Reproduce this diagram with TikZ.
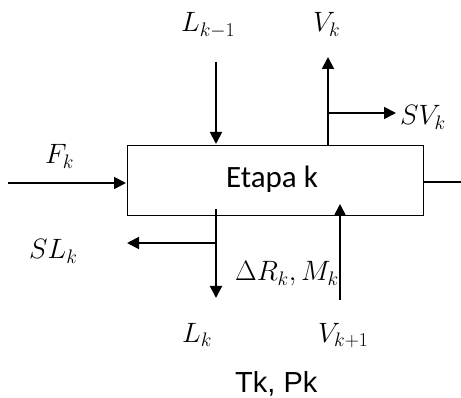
\RequirePackage{fix-cm}
\documentclass[tikz,border=0pt]{standalone}
\usepackage{fontspec}
\setmainfont{Carlito}
\newfontfamily\arialf{Liberation Sans}
\usetikzlibrary{arrows.meta}
\begin{document}
\begin{tikzpicture}[x=1pt,y=-1pt,
  flow/.style={line width=1.8pt,-{Triangle[length=12pt,width=12pt]}},
  plain/.style={line width=1.8pt},
  lbl/.style={inner sep=0pt,anchor=base west,font=\fontsize{28}{30}\selectfont},
  stage/.style={draw,line width=1.8pt,minimum width=296pt,minimum height=70pt,inner sep=0pt}]
\useasboundingbox (0,0) rectangle (461,398);
\node[stage] (box) at (275.5,180.5) {};
\node[inner sep=0pt,anchor=base,font=\fontsize{31}{33}\selectfont] (et) at (272,188) {Etapa k};
% labels
\node[lbl] (lkm1) at (181,32) {$L_{k-1}$};
\node[lbl] (vk) at (313,32) {$V_k$};
\node[lbl] (svk) at (400,125) {$SV_k$};
\node[lbl] (fk) at (45,164) {$F_k$};
\node[lbl] (slk) at (29,259) {$SL_k$};
\node[lbl] (drk) at (235,281) {$\Delta R_k, M_k$};
\node[lbl] (lk) at (182,342) {$L_k$};
\node[lbl] (vkp1) at (318,342) {$V_{k+1}$};
\node[lbl,font=\arialf\fontsize{29}{31}\selectfont] (tp) at (235,392) {Tk, Pk};
% connector points
\coordinate (a1) at (216,62);
\coordinate (a2) at (216,144);
\coordinate (v1) at (328,145);
\coordinate (v2) at (328,57);
\coordinate (sv1) at (328,113);
\coordinate (sv2) at (396,113);
\coordinate (f1) at (8,183);
\coordinate (f2) at (126,183);
\coordinate (r1) at (424,182);
\coordinate (r2) at (461,182);
\coordinate (l1) at (216,209);
\coordinate (l2) at (216,298);
\coordinate (sl1) at (216,243);
\coordinate (sl2) at (127,243);
\coordinate (vp1) at (340,300);
\coordinate (vp2) at (340,204);
% connectors
\draw[flow] (a1) -- (a2);
\draw[flow] (v1) -- (v2);
\draw[flow] (sv1) -- (sv2);
\draw[flow] (f1) -- (f2);
\draw[plain] (r1) -- (r2);
\draw[flow] (l1) -- (l2);
\draw[flow] (sl1) -- (sl2);
\draw[flow] (vp1) -- (vp2);
\end{tikzpicture}
\end{document}
